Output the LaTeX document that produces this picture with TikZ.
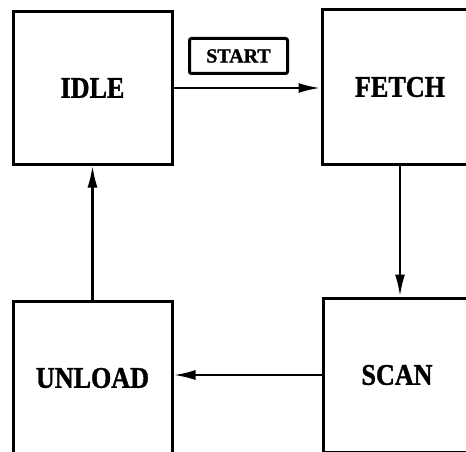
\documentclass[tikz,border=0pt]{standalone}
\usepackage{fontspec}
\setmainfont{Liberation Serif}
\newfontfamily\statefont[FakeStretch=0.87, BoldFeatures={FakeBold=1.2}]{Liberation Serif}
\newfontfamily\labelfont[BoldFeatures={FakeBold=1.2}]{Liberation Serif}
\usetikzlibrary{arrows.meta}

\begin{document}
\begin{tikzpicture}[x = 1pt, y = 1pt,
    state/.style = {draw, line width = 3pt, inner sep = 0pt,
        minimum width = 159pt, minimum height = 152pt,
        font = \statefont\bfseries\fontsize{30}{30}\selectfont},
    trans/.style = {line width = 2.4pt, -{Latex[length = 22pt, width = 10pt]}}]
    \useasboundingbox (0,0) rectangle (466,451);
    \clip (0,0) rectangle (466,451);
    \node[state] (idle) at (92.5,363) {IDLE};
    \node[state, minimum width = 156pt, minimum height = 154pt] (fetch) at (400,364) {FETCH};
    \node[state, minimum width = 148pt, minimum height = 154pt] (scan) at (397,76) {SCAN};
    \node[state, minimum height = 154pt] (unload) at (92.5,73) {UNLOAD};
    \draw[trans] (idle.east) -- (idle.east -| fetch.west);
    \draw[trans] (fetch.south) -- (fetch.south |- scan.north);
    \draw[trans] (scan.west) -- (scan.west -| unload.east);
    \draw[trans] (unload.north) -- (idle.south);
    \node[draw, line width = 3pt, rounded corners = 2pt, minimum width = 98pt, minimum height = 35pt,
        font = \labelfont\bfseries\fontsize{20}{20}\selectfont] (start) at (238.5,395) {START};
\end{tikzpicture}
\end{document}
